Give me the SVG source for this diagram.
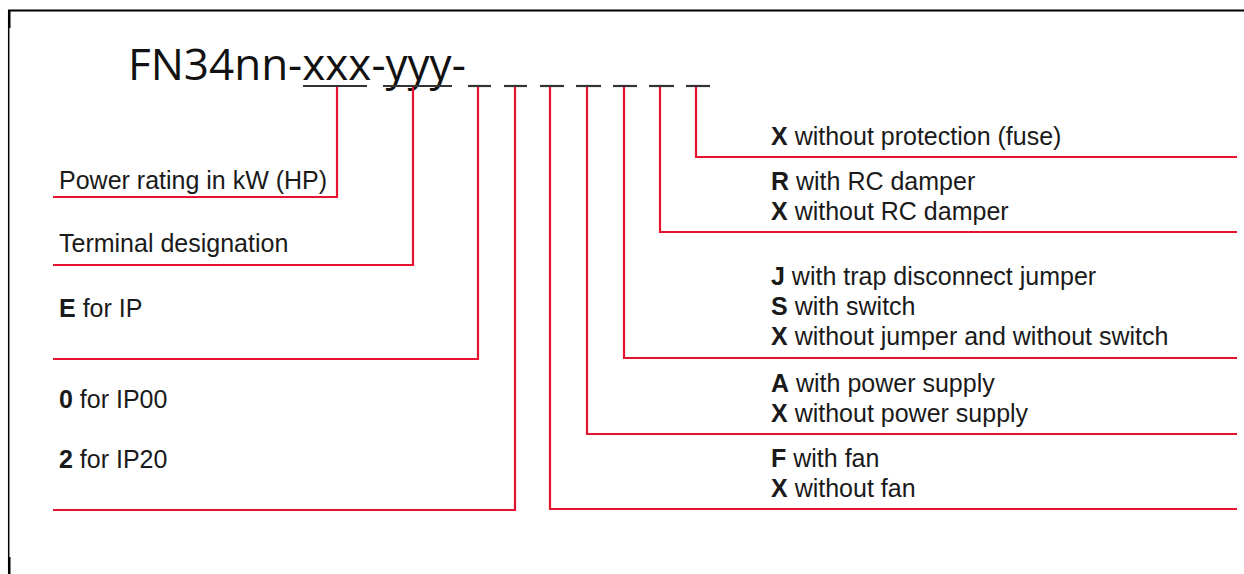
<svg xmlns="http://www.w3.org/2000/svg" width="1244" height="574" viewBox="0 0 1244 574">
<style>
.frame{stroke:#000;fill:none}
.red{stroke:#e5132f;stroke-width:2.2;fill:none}
.dash{stroke:#333;stroke-width:2.2}
.t{font-family:"Liberation Sans",Arial,sans-serif;font-size:25px;fill:#1a1a1a}
.b{font-weight:bold}
.title{font-family:"Open Sans","Noto Sans",sans-serif;font-size:44px;fill:#111}
</style>
<rect width="1244" height="574" fill="#fff"/>
<g id="frame">
<line class="frame" x1="8" y1="10.5" x2="1244" y2="10.5" stroke-width="2"/>
<line class="frame" x1="8.7" y1="10" x2="8.7" y2="574" stroke-width="1.5"/>
<rect x="8" y="10" width="2.5" height="18" fill="#000"/>
<rect x="8" y="557" width="2.5" height="17" fill="#000"/>
</g>
<g id="title">
<text class="title" x="128" y="80">FN34nn-xxx-yyy-</text>
<line class="dash" x1="303" y1="86" x2="367" y2="86"/>
<line class="dash" x1="383" y1="86" x2="452" y2="86"/>
<line class="dash" x1="468" y1="86" x2="491" y2="86"/>
<line class="dash" x1="504" y1="86" x2="527" y2="86"/>
<line class="dash" x1="540" y1="86" x2="564" y2="86"/>
<line class="dash" x1="576" y1="86" x2="601" y2="86"/>
<line class="dash" x1="613" y1="86" x2="637" y2="86"/>
<line class="dash" x1="649" y1="86" x2="674" y2="86"/>
<line class="dash" x1="686" y1="86" x2="710" y2="86"/>
</g>
<g id="connectors">
<polyline class="red" points="337,87 337,197 53,197"/>
<polyline class="red" points="413,87 413,265 53,265"/>
<polyline class="red" points="478,87 478,359 53,359"/>
<polyline class="red" points="515,87 515,510 53,510"/>
<polyline class="red" points="550,87 550,509 1237,509"/>
<polyline class="red" points="587,87 587,434 1237,434"/>
<polyline class="red" points="624,87 624,358 1237,358"/>
<polyline class="red" points="660,87 660,232 1237,232"/>
<polyline class="red" points="696,87 696,157 1237,157"/>
</g>
<g id="power-rating"><text class="t" x="59" y="189">Power rating in kW (HP)</text></g>
<g id="terminal"><text class="t" x="59" y="252">Terminal designation</text></g>
<g id="ip-e"><text class="t" x="59" y="317"><tspan class="b">E</tspan> for IP</text></g>
<g id="ip-num">
<text class="t" x="59" y="408"><tspan class="b">0</tspan> for IP00</text>
<text class="t" x="59" y="468"><tspan class="b">2</tspan> for IP20</text>
</g>
<g id="fuse"><text class="t" x="771" y="145"><tspan class="b">X</tspan> without protection (fuse)</text></g>
<g id="rc-damper">
<text class="t" x="771" y="190"><tspan class="b">R</tspan> with RC damper</text>
<text class="t" x="771" y="220"><tspan class="b">X</tspan> without RC damper</text>
</g>
<g id="jumper">
<text class="t" x="771" y="285"><tspan class="b">J</tspan> with trap disconnect jumper</text>
<text class="t" x="771" y="315"><tspan class="b">S</tspan> with switch</text>
<text class="t" x="771" y="345"><tspan class="b">X</tspan> without jumper and without switch</text>
</g>
<g id="power-supply">
<text class="t" x="771" y="392"><tspan class="b">A</tspan> with power supply</text>
<text class="t" x="771" y="422"><tspan class="b">X</tspan> without power supply</text>
</g>
<g id="fan">
<text class="t" x="771" y="467"><tspan class="b">F</tspan> with fan</text>
<text class="t" x="771" y="497"><tspan class="b">X</tspan> without fan</text>
</g>
</svg>
